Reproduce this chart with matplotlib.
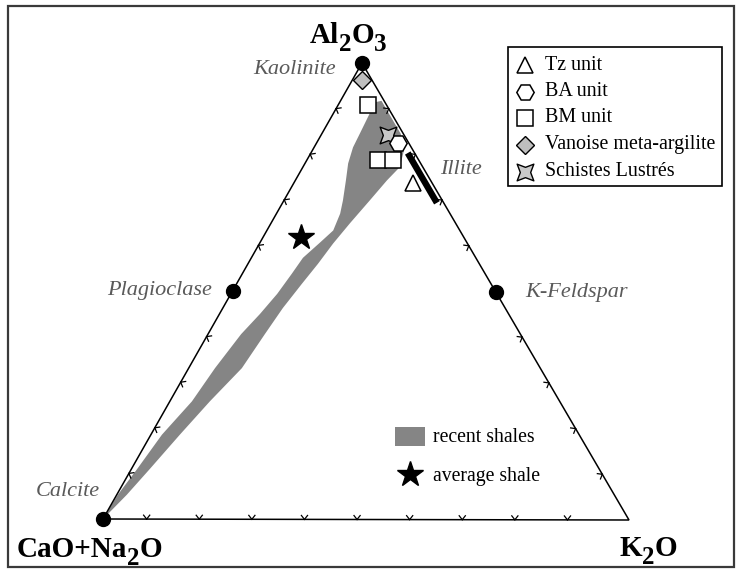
import numpy as np
import matplotlib
matplotlib.use('Agg')
import matplotlib.pyplot as plt
from matplotlib.path import Path
from matplotlib.patches import Polygon, Rectangle

plt.rcParams['font.family'] = ['Liberation Serif', 'DejaVu Serif']

# ---------------- data (ternary: Al2O3, CaO+Na2O, K2O) ----------------
# apex labels as (text, is_subscript) fragments
label_top = [('Al', False), ('2', True), ('O', False), ('3', True)]
label_left = [('CaO+Na', False), ('2', True), ('O', False)]
label_right = [('K', False), ('2', True), ('O', False)]

mineral_names = ['Kaolinite', 'Plagioclase', 'K-Feldspar', 'Calcite']
mineral_al = [1.0, 0.5, 0.5, 0.0]
mineral_ca = [0.0, 0.5, 0.0, 1.0]
mineral_k = [0.0, 0.0, 0.5, 0.0]

illite_name = 'Illite'
illite_al = [0.803, 0.694]
illite_ca = [0.013, 0.013]
illite_k = [0.184, 0.293]

tz_al, tz_ca, tz_k = [0.737], [0.036], [0.227]
ba_al, ba_ca, ba_k = [0.825], [0.020], [0.155]
bm_al = [0.908, 0.787, 0.787]
bm_ca = [0.035, 0.078, 0.049]
bm_k = [0.057, 0.135, 0.164]
van_al, van_ca, van_k = [0.963], [0.019], [0.018]
sl_al, sl_ca, sl_k = [0.842], [0.031], [0.127]
avg_al, avg_ca, avg_k = [0.619], [0.309], [0.072]

shale_al = [0.915, 0.919, 0.847, 0.810, 0.772, 0.743, 0.699, 0.649, 0.605, 0.560,
            0.516, 0.463, 0.406, 0.331, 0.258, 0.185, 0.110, 0.053, 0.000,
            0.053, 0.110, 0.185, 0.258, 0.331, 0.406, 0.450, 0.494, 0.538, 0.573,
            0.607, 0.633, 0.670, 0.699, 0.743, 0.780, 0.816, 0.846, 0.890]
shale_ca = [0.019, 0.005, 0.005, 0.017, 0.044, 0.083, 0.137, 0.201, 0.256, 0.307,
            0.360, 0.423, 0.486, 0.568, 0.666, 0.760, 0.855, 0.928, 1.000,
            0.945, 0.879, 0.794, 0.700, 0.619, 0.532, 0.473, 0.418, 0.368, 0.329,
            0.280, 0.241, 0.209, 0.189, 0.161, 0.138, 0.111, 0.082, 0.041]
shale_k = [0.067, 0.078, 0.150, 0.174, 0.184, 0.174, 0.163, 0.150, 0.140, 0.133,
           0.124, 0.114, 0.108, 0.101, 0.076, 0.055, 0.035, 0.019, 0.000,
           0.002, 0.011, 0.021, 0.042, 0.050, 0.063, 0.077, 0.088, 0.094, 0.098,
           0.114, 0.126, 0.121, 0.112, 0.096, 0.082, 0.074, 0.072, 0.069]

legend_labels = ['Tz unit', 'BA unit', 'BM unit', 'Vanoise meta-argilite', 'Schistes Lustrés']
shale_legend_labels = ['recent shales', 'average shale']

# ---------------- layout ----------------
W, H = 739, 571
fig = plt.figure(figsize=(W / 100, H / 100), dpi=100)
ax = fig.add_axes([0, 0, 1, 1])
ax.set_xlim(0, W)
ax.set_ylim(H, 0)
ax.axis('off')
renderer = fig.canvas.get_renderer()

T = np.array([362.0, 63.0])
L = np.array([103.0, 519.0])
R = np.array([629.0, 520.0])


def tern(al, ca, k):
    al = np.asarray(al, float); ca = np.asarray(ca, float); k = np.asarray(k, float)
    s = al + ca + k
    al, k = al / s, k / s
    x = L[0] + k * (R[0] - L[0]) + al * (T[0] - L[0])
    y = L[1] + k * (R[1] - L[1]) + al * (T[1] - L[1])
    return x, y


# figure frame
fig.patches.append(Rectangle((8 / W, 1 - 567 / H), 726 / W, 561 / H, transform=fig.transFigure,
                             fill=False, lw=1.6, ec='#3a3a3a'))

# recent shales field
sx, sy = tern(shale_al, shale_ca, shale_k)
ax.add_patch(Polygon(np.column_stack([sx, sy]), closed=True, fc='#858585', ec='none', zorder=1))

# triangle
tri = np.array([T, R, L, T])
ax.plot(tri[:, 0], tri[:, 1], color='k', lw=1.1, zorder=2, solid_joinstyle='miter')

centroid = (T + L + R) / 3


def chevrons(P0, P1, fracs):
    e = P1 - P0
    n = np.array([-e[1], e[0]])
    n = n / np.linalg.norm(n)
    mid = P0 + 0.5 * e
    if np.dot(centroid - mid, n) < 0:
        n = -n
    for t in fracs:
        p = P0 + t * e
        for ang in (38, -38):
            th = np.deg2rad(ang)
            rot = np.array([[np.cos(th), -np.sin(th)], [np.sin(th), np.cos(th)]])
            q = p + 5.0 * (rot @ n)
            ax.plot([p[0], q[0]], [p[1], q[1]], color='k', lw=0.9, zorder=2)


tenths = np.arange(1, 10) / 10
chevrons(T, L, tenths)
chevrons(T, R, tenths)
chevrons(L, R, tenths - 0.017)

# illite bar
ix, iy = tern(illite_al, illite_ca, illite_k)
ax.plot(ix, iy, color='k', lw=4.6, solid_capstyle='butt', zorder=3)

# mineral end-members
mx, my = tern(mineral_al, mineral_ca, mineral_k)
ax.plot(mx, my, 'o', ms=10, color='k', zorder=6, ls='none')

schist_marker = Path([(-1, -1), (0, -0.62), (1, -1), (0.62, 0), (1, 1), (0, 0.62), (-1, 1),
                      (-0.62, 0), (-1, -1)], closed=True)

styles = [
    dict(marker='^', ms=12, mfc='white', mec='k', mew=1.1),
    dict(marker='H', ms=12.5, mfc='white', mec='k', mew=1.1),
    dict(marker='s', ms=11, mfc='white', mec='k', mew=1.1),
    dict(marker='D', ms=9, mfc='#bfbfbf', mec='k', mew=1.0),
    dict(marker=schist_marker, ms=12, mfc='#c8c8c8', mec='k', mew=1.0),
]

groups = [(tz_al, tz_ca, tz_k), (ba_al, ba_ca, ba_k), (bm_al, bm_ca, bm_k),
          (van_al, van_ca, van_k), (sl_al, sl_ca, sl_k)]
order = [3, 2, 4, 1, 0]
for gi in order:
    gx, gy = tern(*groups[gi])
    ax.plot(gx, gy, ls='none', zorder=5, **styles[gi])

ax_, ay_ = tern(avg_al, avg_ca, avg_k)
ax.plot(ax_, ay_, marker='*', ms=19, color='k', ls='none', zorder=5)


# apex labels built from fragments (large, low subscripts)
def frag_label(x0, y0, frags, ha='left', fs=21, sub_fs=18, sub_dy=8):
    arts = []
    x = x0
    for s, sub in frags:
        t = ax.text(x, y0 + (sub_dy if sub else 0), s, fontsize=sub_fs if sub else fs,
                    fontweight='bold', ha='left', va='baseline')
        bb = t.get_window_extent(renderer)
        x = bb.x1
        arts.append(t)
    width = x - x0
    if ha == 'center':
        for t in arts:
            t.set_x(t.get_position()[0] - width / 2)
    return arts


frag_label(348, 43, label_top, ha='center')
frag_label(17, 557, label_left)
frag_label(619, 556, label_right)

# mineral labels
mcol = '#5a5a5a'
mfs = 16
ax.text(336, 69, mineral_names[0], fontsize=mfs, style='italic', color=mcol, ha='right', va='center')
ax.text(212, 291, mineral_names[1], fontsize=mfs, style='italic', color=mcol, ha='right', va='center')
ax.text(525, 292, mineral_names[2], fontsize=mfs, style='italic', color=mcol, ha='left', va='center')
ax.text(100, 491, mineral_names[3], fontsize=mfs, style='italic', color=mcol, ha='right', va='center')
ax.text(440, 170, illite_name, fontsize=mfs, style='italic', color=mcol, ha='left', va='center')

# legend box
ax.add_patch(Rectangle((508, 47), 214, 139, fill=False, ec='k', lw=1.2, zorder=6))
rows_y = [65, 92, 118, 145, 172]
for i, lab in enumerate(legend_labels):
    ax.plot([525], [rows_y[i]], ls='none', zorder=7, **styles[i])
    ax.text(545, rows_y[i], lab, fontsize=14.4, ha='left', va='center', zorder=7)

# shale legend
ax.add_patch(Rectangle((395, 427), 30, 19, fc='#858585', ec='none'))
ax.text(433, 437, shale_legend_labels[0], fontsize=14.2, ha='left', va='center')
ax.plot([410], [474], marker='*', ms=19, color='k', ls='none')
ax.text(433, 477, shale_legend_labels[1], fontsize=14.2, ha='left', va='center')

fig.savefig('out.png', dpi=100)
